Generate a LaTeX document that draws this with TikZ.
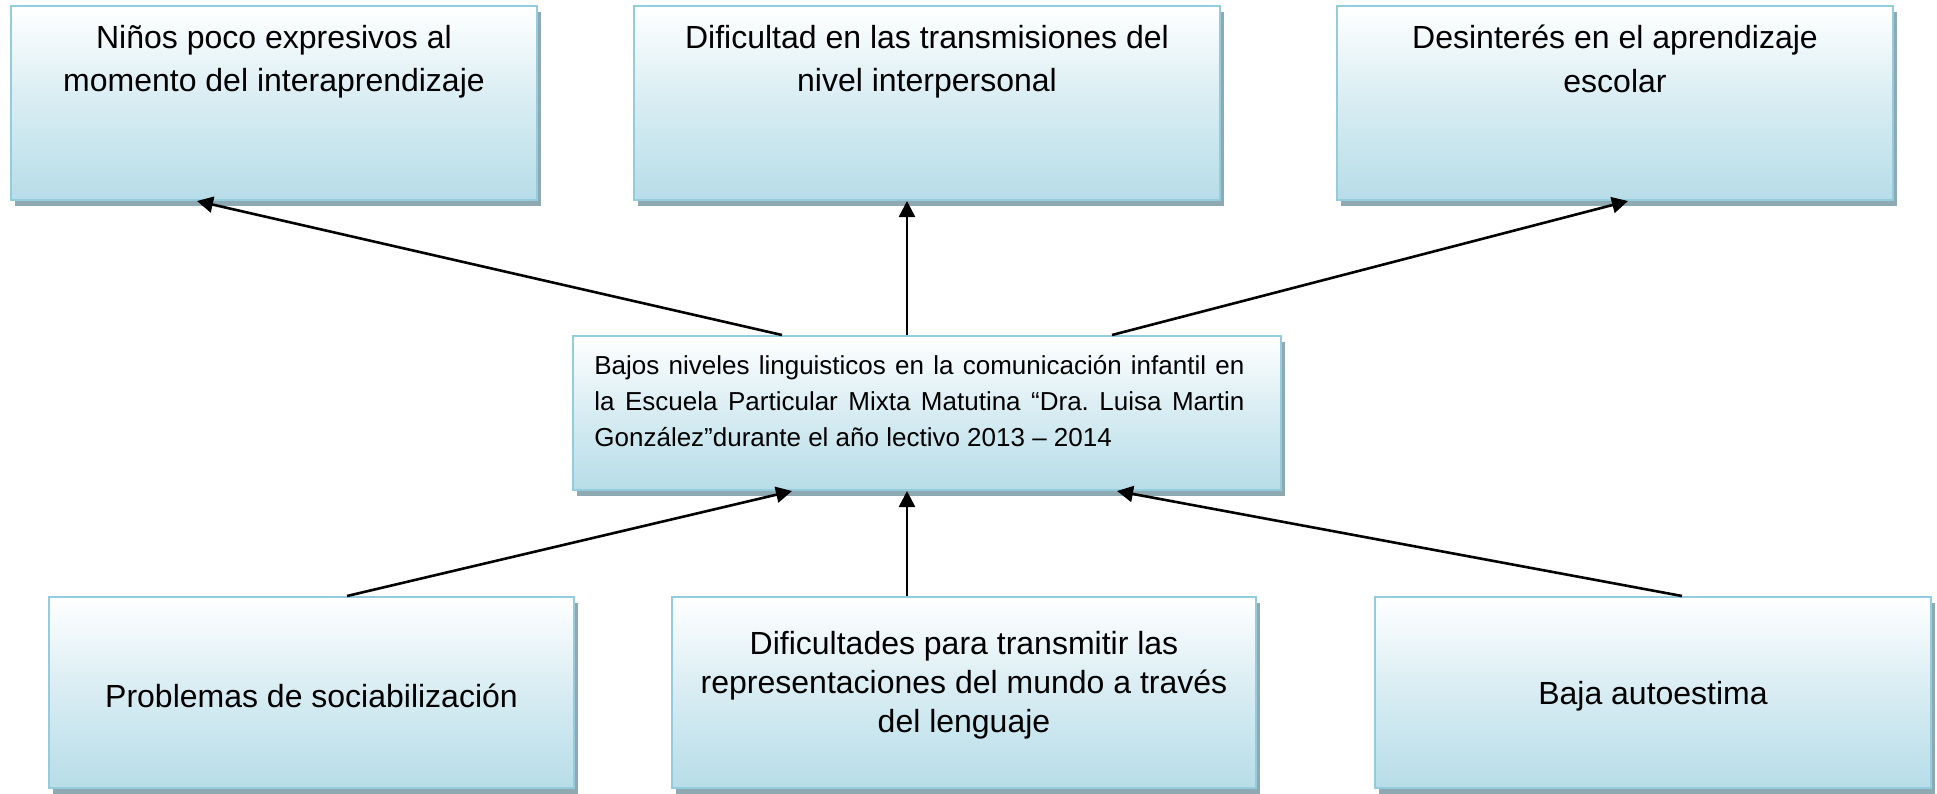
\documentclass[tikz,border=0pt]{standalone}
\usepackage{fontspec}
\setmainfont{Liberation Sans}
\usetikzlibrary{arrows.meta,shadows}
\definecolor{boxblue}{HTML}{B7DDE8}
\definecolor{boxborder}{HTML}{93CDDD}
\definecolor{shadowgray}{HTML}{8FA9B3}
\begin{document}
\frenchspacing
\begin{tikzpicture}[x=0.5pt,y=-0.5pt,
  box/.style={draw=boxborder, line width=1pt, rectangle, inner sep=0pt,
    top color=white, bottom color=boxblue, middle color=boxblue!55!white,
    drop shadow={shadow xshift=2pt, shadow yshift=-3pt, fill=shadowgray, opacity=1}},
  toptext/.style={inner sep=0pt, align=center, font=\fontsize{16}{21.6}\selectfont},
  bottext/.style={inner sep=0pt, align=center, font=\fontsize{16}{19.5}\selectfont},
  midtext/.style={inner sep=0pt, align=justify, text width=325pt, font=\fontsize{13}{18}\selectfont},
  arr/.style={-{Triangle[length=8pt,width=8pt]}, line width=1.3pt, black}
]
\useasboundingbox (0,0) rectangle (1937,793);
% top boxes
\node[box, minimum width=263pt, minimum height=97pt] (t1) at (274,103) {};
\node[box, minimum width=293pt, minimum height=97pt] (t2) at (927,103) {};
\node[box, minimum width=278pt, minimum height=97pt] (t3) at (1615,103) {};
\node[toptext, anchor=north] (t1t) at ([yshift=-10pt]t1.north) {Niños poco expresivos al\\momento del interaprendizaje};
\node[toptext, anchor=north] (t2t) at ([yshift=-10pt]t2.north) {Dificultad en las transmisiones del\\nivel interpersonal};
\node[toptext, anchor=north] (t3t) at ([yshift=-10pt]t3.north) {Desinterés en el aprendizaje\\escolar};
% center box
\node[box, minimum width=354pt, minimum height=77pt] (c) at (927,413) {};
\node[midtext, anchor=north west] (ct) at ([xshift=11pt,yshift=-10pt]c.north west) {Bajos niveles linguisticos en la comunicación infantil en\linebreak la Escuela Particular Mixta Matutina “Dra. Luisa Martin\linebreak González”durante el año lectivo 2013 – 2014};
% bottom boxes
\node[box, minimum width=262.5pt, minimum height=95.5pt] (b1) at (311.5,692.5) {};
\node[box, minimum width=292pt, minimum height=95.5pt] (b2) at (964,692.5) {};
\node[box, minimum width=278pt, minimum height=95.5pt] (b3) at (1653,692.5) {};
\node[bottext] (b1t) at ([yshift=-1.5pt]b1.center) {Problemas de sociabilización};
\node[bottext] (b2t) at ([yshift=3.5pt]b2.center) {Dificultades para transmitir las\\representaciones del mundo a través\\del lenguaje};
\node[bottext] (b3t) at ([yshift=-2pt]b3.center) {Baja autoestima};
% arrows
\draw[arr] ([xshift=-72.5pt]c.north) -- ([xshift=-38.5pt]t1.south);
\draw[arr] ([xshift=-10pt]c.north) -- ([xshift=-10pt]t2.south);
\draw[arr] ([xshift=92.5pt]c.north) -- ([xshift=6.5pt]t3.south);
\draw[arr] ([xshift=17.75pt]b1.north) -- ([xshift=-67.5pt]c.south);
\draw[arr] ([xshift=-28.5pt]b2.north) -- ([xshift=-10pt]c.south);
\draw[arr] ([xshift=14.5pt]b3.north) -- ([xshift=95pt]c.south);
\end{tikzpicture}
\end{document}
